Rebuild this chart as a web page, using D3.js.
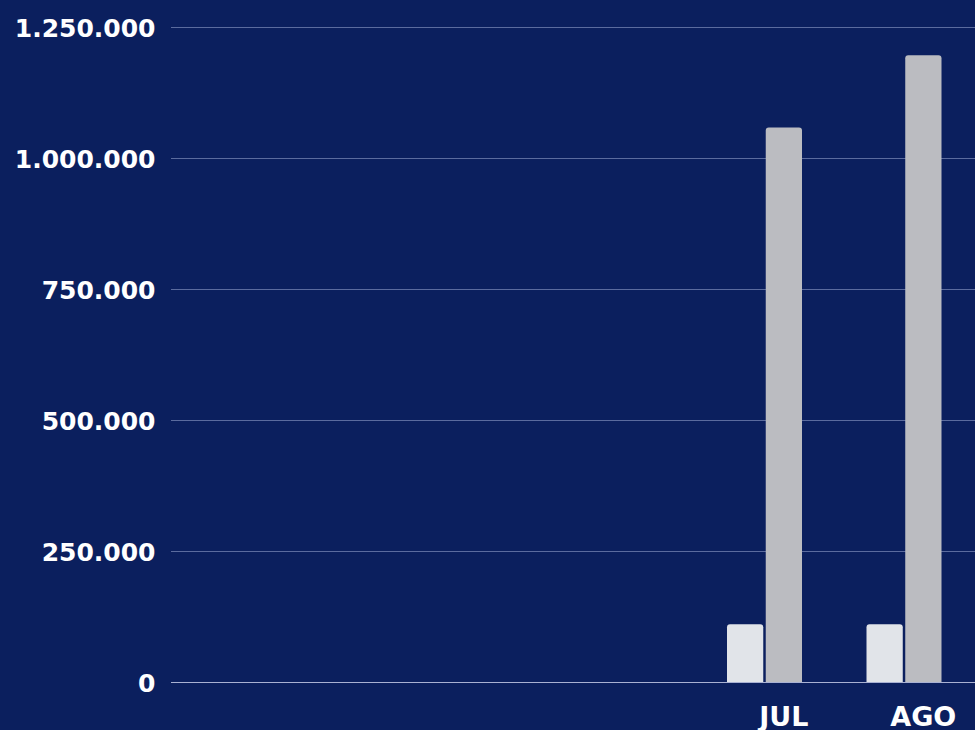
<!DOCTYPE html>
<html>
<head>
<meta charset="utf-8">
<script src="https://cdn.jsdelivr.net/npm/d3@7"></script>
<style>
  html, body { margin: 0; padding: 0; background: #0b1f5e; }
  svg { display: block; }
  text { font-family: "DejaVu Sans", sans-serif; font-weight: bold; fill: #ffffff; }
</style>
</head>
<body>
<svg id="chart" width="975" height="730"></svg>
<script>
const months = ["JUL", "AGO"];
const series = ["serieA", "serieB"];
const valuesA = [110000, 110000];
const valuesB = [1058000, 1196000];
const yTicks = [0, 250000, 500000, 750000, 1000000, 1250000];

const W = 975, H = 730;
const svg = d3.select("#chart");
svg.append("rect").attr("width", W).attr("height", H).attr("fill", "#0b1f5e");

const y = d3.scaleLinear().domain([0, 1250000]).range([682, 27]);
const x0 = d3.scaleBand().domain(months).range([714, 993]);
const x1 = d3.scaleBand().domain(series).range([13, 88]).paddingInner(0.064);
const colors = { serieA: "#e1e4e9", serieB: "#bbbcc1" };

const fmt = v => d3.format(",")(v).replace(/,/g, ".");

// grid
svg.append("g").selectAll("line").data(yTicks).join("line")
  .attr("x1", 171).attr("x2", W)
  .attr("y1", d => Math.round(y(d)) + 0.5).attr("y2", d => Math.round(y(d)) + 0.5)
  .attr("stroke", d => d === 0 ? "#a9b1d3" : "#5b6b9e")
  .attr("stroke-width", 1);

// y labels
svg.append("g").selectAll("text").data(yTicks).join("text")
  .attr("x", 155.5).attr("y", d => y(d) + 10)
  .attr("text-anchor", "end")
  .attr("font-size", 25)
  .text(fmt);

// bars
const rows = months.map((m, i) => ({ m, vals: [
  { s: "serieA", v: valuesA[i] }, { s: "serieB", v: valuesB[i] }] }));

function topRounded(x, yTop, w, yBot, r) {
  return `M${x},${yBot}V${yTop + r}Q${x},${yTop} ${x + r},${yTop}H${x + w - r}Q${x + w},${yTop} ${x + w},${yTop + r}V${yBot}Z`;
}

const g = svg.append("g").selectAll("g").data(rows).join("g")
  .attr("transform", d => `translate(${x0(d.m)},0)`);
g.selectAll("path").data(d => d.vals).join("path")
  .attr("d", d => topRounded(x1(d.s), y(d.v), x1.bandwidth(), y(0), 3))
  .attr("fill", d => colors[d.s]);

// redraw baseline on top
svg.append("line").attr("x1", 171).attr("x2", W)
  .attr("y1", Math.round(y(0)) + 0.5).attr("y2", Math.round(y(0)) + 0.5)
  .attr("stroke", "#a9b1d3").attr("stroke-width", 1);

// x labels
svg.append("g").selectAll("text").data(months).join("text")
  .attr("x", d => x0(d) + x0.bandwidth() / 2)
  .attr("y", 726)
  .attr("text-anchor", "middle")
  .attr("font-size", 27)
  .text(d => d);
</script>
</body>
</html>
